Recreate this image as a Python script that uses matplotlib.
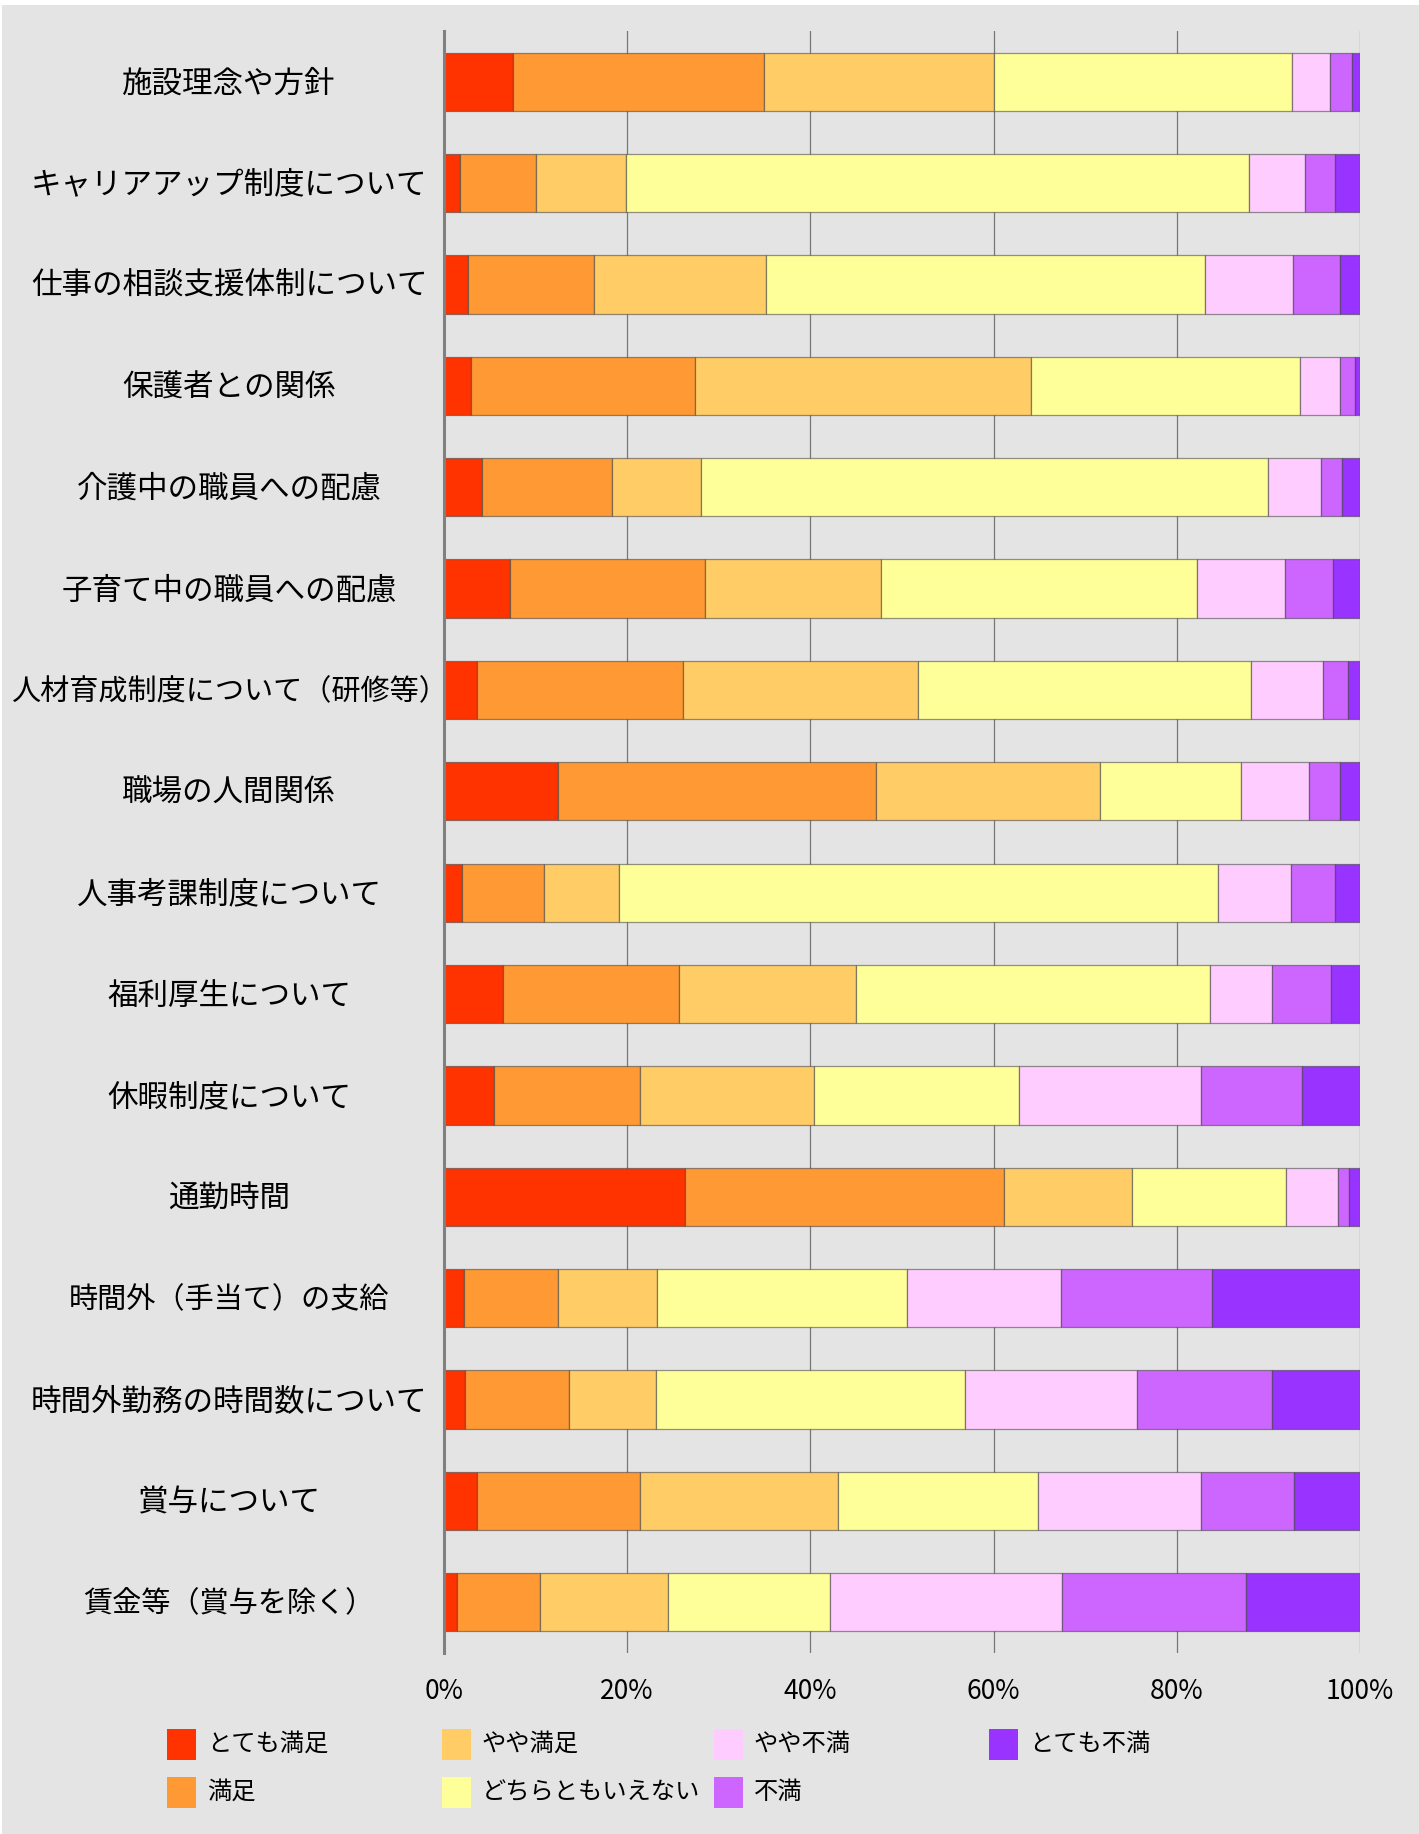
import matplotlib
matplotlib.use("Agg")
import matplotlib.pyplot as plt
from matplotlib.patches import Rectangle
import numpy as np

plt.rcParams['font.family'] = ['Noto Sans CJK JP', 'DejaVu Sans']

categories = [
    "施設理念や方針",
    "キャリアアップ制度について",
    "仕事の相談支援体制について",
    "保護者との関係",
    "介護中の職員への配慮",
    "子育て中の職員への配慮",
    "人材育成制度について（研修等）",
    "職場の人間関係",
    "人事考課制度について",
    "福利厚生について",
    "休暇制度について",
    "通勤時間",
    "時間外（手当て）の支給",
    "時間外勤務の時間数について",
    "賞与について",
    "賃金等（賞与を除く）",
]

series_names = ["とても満足", "満足", "やや満足", "どちらともいえない", "やや不満", "不満", "とても不満"]
series_colors = ["#FF3300", "#FF9933", "#FFCC66", "#FFFF99", "#FFCCFF", "#CC66FF", "#9933FF"]

# percentages per category, in series order
very_satisfied = [7.5, 1.7, 2.6, 2.9, 4.2, 7.2, 3.6, 12.4, 2.0, 6.4, 5.5, 26.3, 2.2, 2.3, 3.6, 1.4]
satisfied      = [27.4, 8.3, 13.8, 24.5, 14.1, 21.3, 22.5, 34.8, 8.9, 19.3, 15.9, 34.8, 10.2, 11.3, 17.8, 9.1]
somewhat_sat   = [25.1, 9.9, 18.8, 36.7, 9.8, 19.2, 25.7, 24.4, 8.2, 19.3, 19.0, 14.0, 10.9, 9.5, 21.6, 13.9]
neutral        = [32.6, 68.0, 47.9, 29.3, 61.9, 34.5, 36.3, 15.4, 65.4, 38.6, 22.4, 16.8, 27.2, 33.8, 21.8, 17.7]
somewhat_dis   = [4.1, 6.1, 9.6, 4.4, 5.7, 9.6, 7.9, 7.4, 8.0, 6.8, 19.8, 5.7, 16.9, 18.8, 17.8, 25.4]
dissatisfied   = [2.4, 3.3, 5.1, 1.6, 2.3, 5.3, 2.7, 3.4, 4.8, 6.4, 11.1, 1.2, 16.4, 14.7, 10.2, 20.0]
very_dis       = [0.9, 2.7, 2.2, 0.6, 2.0, 2.9, 1.3, 2.2, 2.7, 3.2, 6.3, 1.2, 16.2, 9.6, 7.2, 12.5]

xtick_values = [0, 20, 40, 60, 80, 100]
xtick_labels = ["0%", "20%", "40%", "60%", "80%", "100%"]

data = np.array([very_satisfied, satisfied, somewhat_sat, neutral,
                 somewhat_dis, dissatisfied, very_dis], dtype=float)
data = data / data.sum(axis=0) * 100.0

W, H = 1419, 1834
bg = "#E4E4E4"
fig = plt.figure(figsize=(W / 100, H / 100), dpi=100, facecolor=bg)
fig.patches.append(Rectangle((0, 1 - 5 / H), 1, 5 / H, transform=fig.transFigure,
                             facecolor="white", edgecolor="none", zorder=0))
fig.patches.append(Rectangle((0, 0), 1.5 / W, 1, transform=fig.transFigure,
                             facecolor="white", edgecolor="none", zorder=0))

left, right, top, bottom = 444, 1360, 31, 1653
ax = fig.add_axes([left / W, 1 - bottom / H, (right - left) / W, (bottom - top) / H])
ax.set_facecolor(bg)

n = len(categories)
y = np.arange(n)
cum = np.zeros(n)
for vals, name, col in zip(data, series_names, series_colors):
    ax.barh(y, vals, left=cum, height=0.575, color=col, edgecolor=(0.25, 0.25, 0.25, 0.55),
            linewidth=0.9, label=name, zorder=3)
    cum += vals

ax.set_xlim(0, 100)
ax.set_ylim(n - 0.5, -0.5)
ax.set_yticks(y)
ax.set_yticklabels([])
ax.tick_params(axis='y', length=0)
ax.set_xticks(xtick_values)
ax.set_xticklabels(xtick_labels, family=['Liberation Sans Narrow', 'Noto Sans CJK JP'], fontsize=19)
ax.tick_params(axis='x', length=0, pad=18)
ax.grid(axis='x', color='#777777', linewidth=0.9, zorder=1)
for s in ['top', 'right', 'bottom']:
    ax.spines[s].set_visible(False)
ax.spines['left'].set_color('#808080')
ax.spines['left'].set_linewidth(2.2)
ax.spines['left'].set_zorder(4)

# category labels centered in the left margin
label_x = 229 / W
for i, cat in enumerate(categories):
    yy_fig = 1 - (top + 2 + (i + 0.5) * (bottom - top) / n) / H
    fs = 21.0 if '（' in cat else 22
    fig.text(label_x, yy_fig, cat, ha='center', va='center', fontsize=fs, color='black')

# legend (manual, 4 columns, column-major)
col_x = [167, 442, 714, 989]
row_y = [1744, 1792]
sq_w, sq_h = 29, 31
for k, (name, col) in enumerate(zip(series_names, series_colors)):
    c, r = k // 2, k % 2
    x0 = col_x[c]
    yc = row_y[r]
    fig.patches.append(Rectangle((x0 / W, 1 - (yc + sq_h / 2) / H), sq_w / W, sq_h / H,
                                 transform=fig.transFigure, facecolor=col, edgecolor='none'))
    fig.text((x0 + sq_w + 11) / W, 1 - yc / H, name, ha='left', va='center',
             fontsize=17.5, color='black')

fig.savefig("out.png", dpi=100, facecolor=bg)
